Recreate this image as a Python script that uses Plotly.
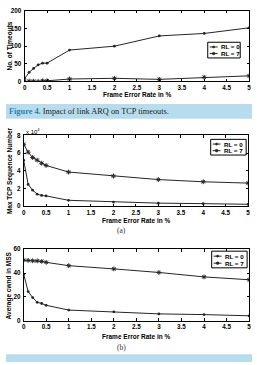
import plotly.graph_objects as go

W, H = 257, 365

fer = [0, 0.1, 0.2, 0.3, 0.4, 0.5, 1, 2, 3, 4, 5]
xtick_vals = [0, 0.5, 1, 1.5, 2, 2.5, 3, 3.5, 4, 4.5, 5]
xtick_text = ["0", "0.5", "1", "1.5", "2", "2.5", "3", "3.5", "4", "4.5", "5"]

timeouts_rl0 = [8, 26, 37, 47, 52, 52, 89, 100, 129, 136, 152]
timeouts_rl7 = [0, 1, 1, 0, 2, 2, 7, 9, 6, 12, 16]
seq_rl0 = [5.2, 2.45, 1.8, 1.35, 1.2, 1.15, 0.65, 0.45, 0.33, 0.27, 0.2]
seq_rl7 = [7.0, 6.1, 5.5, 5.2, 4.85, 4.6, 3.85, 3.4, 3.0, 2.75, 2.6]
cwnd_rl0 = [39, 24.5, 19.5, 15.5, 14.5, 13, 9, 7.5, 5.8, 5.2, 4.2]
cwnd_rl7 = [50.8, 50.6, 50.3, 50.2, 49.8, 49, 46.2, 43.5, 40.5, 36.8, 34.4]

series_names = ["RL = 0", "RL = 7"]
ylabels = ["No. of Timeouts", "Max TCP Sequence Number", "Average cwnd in MSS"]
xlabel = "Frame Error Rate in %"
caption_fig = "Figure 4."
caption_rest = " Impact of link ARQ on TCP timeouts."

SANS = "Liberation Sans, Arial, sans-serif"
SERIF = "Liberation Serif, Times New Roman, serif"
LINE = "#262626"
BLUE_BAND = "#b7dced"


def px(x):
    return x / W


def py(y):
    return 1 - y / H


# panel boxes in pixels: (x0, x1, ytop, ybottom)
panels = [(23, 251, 7, 79), (22, 250, 134, 206), (22, 251, 250, 323)]
yranges = [[0, 200], [0, 8], [0, 60]]
ydticks = [50, 2, 20]
data = [(timeouts_rl0, timeouts_rl7), (seq_rl0, seq_rl7), (cwnd_rl0, cwnd_rl7)]

fig = go.Figure()

axis_common = dict(
    showline=True, linecolor="black", linewidth=1, mirror="ticks",
    ticks="inside", ticklen=2.5, tickcolor="black", tickwidth=1,
    showgrid=False, zeroline=False,
    tickfont=dict(family=SANS, size=6.3, color="black", weight="bold"),
)

for i, ((x0, x1, yt, yb), yr, dt, (s0, s7)) in enumerate(zip(panels, yranges, ydticks, data)):
    n = "" if i == 0 else str(i + 1)
    fig.add_trace(go.Scatter(
        x=fer, y=s0, mode="lines+markers", name=series_names[0], showlegend=False,
        xaxis="x" + n, yaxis="y" + n,
        line=dict(color=LINE, width=1), marker=dict(symbol="circle", size=2.8, color=LINE),
    ))
    fig.add_trace(go.Scatter(
        x=fer, y=s7, mode="lines+markers", name=series_names[1], showlegend=False,
        xaxis="x" + n, yaxis="y" + n,
        line=dict(color=LINE, width=1),
        marker=dict(symbol="asterisk", size=4, color=LINE, line=dict(color=LINE, width=1)),
    ))
    fig.layout["xaxis" + n] = dict(
        domain=[px(x0), px(x1)], anchor="y" + n, range=[0, 5],
        tickvals=xtick_vals, ticktext=xtick_text, ticklabelstandoff=0, **axis_common,
    )
    fig.layout["yaxis" + n] = dict(
        domain=[py(yb), py(yt)], anchor="x" + n, range=yr, dtick=dt,
        ticklabelstandoff=1, **axis_common,
    )

annotations = []
shapes = []

# axis titles
xl_y = [92.5, 220.5, 339]
for i, (x0, x1, yt, yb) in enumerate(panels):
    annotations.append(dict(
        text=xlabel, x=px((x0 + x1) / 2), y=py(xl_y[i]), xref="paper", yref="paper",
        showarrow=False, xanchor="center", yanchor="middle",
        font=dict(family=SANS, size=6.5, color="black", weight="bold"),
    ))
    annotations.append(dict(
        text=ylabels[i], x=px(7.5), y=py((yt + yb) / 2), xref="paper", yref="paper",
        showarrow=False, xanchor="center", yanchor="middle", textangle=-90,
        font=dict(family=SANS, size=6.5, color="black", weight="bold"),
    ))

# exponent label
annotations.append(dict(
    text="x 10<sup>4</sup>", x=px(22), y=py(129), xref="paper", yref="paper",
    showarrow=False, xanchor="left", yanchor="middle",
    font=dict(family=SANS, size=6, color="black"),
))

# (a), (b)
for lab, yy in [("(a)", 230.5), ("(b)", 350)]:
    annotations.append(dict(
        text=lab, x=px(121), y=py(yy), xref="paper", yref="paper",
        showarrow=False, xanchor="center", yanchor="middle",
        font=dict(family=SERIF, size=7.5, color="#333333"),
    ))

# caption band and text
shapes.append(dict(type="rect", xref="paper", yref="paper",
                   x0=px(4), x1=px(254), y0=py(117), y1=py(102),
                   fillcolor=BLUE_BAND, line=dict(width=0), layer="below"))
shapes.append(dict(type="rect", xref="paper", yref="paper",
                   x0=px(4), x1=px(254), y0=py(365), y1=py(357),
                   fillcolor=BLUE_BAND, line=dict(width=0), layer="below"))
annotations.append(dict(
    text=f"<span style='color:#2f7fb5'><b>{caption_fig}</b></span>{caption_rest}",
    x=px(5), y=py(109.5), xref="paper", yref="paper", showarrow=False,
    xanchor="left", yanchor="middle",
    font=dict(family=SERIF, size=8.3, color="#222222"),
))

# manual legends
legend_boxes = [(209, 242, 39, 55), (212, 248, 138, 154), (213, 249, 252, 269)]
for (lx0, lx1, ly0, ly1) in legend_boxes:
    shapes.append(dict(type="rect", xref="paper", yref="paper",
                       x0=px(lx0), x1=px(lx1), y0=py(ly1), y1=py(ly0),
                       fillcolor="white", line=dict(color="black", width=1)))
    rows = [ly0 + (ly1 - ly0) * 0.3, ly0 + (ly1 - ly0) * 0.72]
    for j, ry in enumerate(rows):
        shapes.append(dict(type="line", xref="paper", yref="paper",
                           x0=px(lx0 + 2), x1=px(lx0 + 10), y0=py(ry), y1=py(ry),
                           line=dict(color=LINE, width=1)))
        r = 1.1 if j == 0 else 1.4
        shapes.append(dict(type="circle", xref="paper", yref="paper",
                           x0=px(lx0 + 6 - r), x1=px(lx0 + 6 + r),
                           y0=py(ry + r), y1=py(ry - r),
                           fillcolor=LINE, line=dict(color=LINE, width=0.5)))
        annotations.append(dict(
            text=series_names[j], x=px(lx0 + 11), y=py(ry), xref="paper", yref="paper",
            showarrow=False, xanchor="left", yanchor="middle",
            font=dict(family=SANS, size=6.2, color="black", weight="bold"),
        ))

fig.update_layout(
    width=W, height=H, margin=dict(l=0, r=0, t=0, b=0),
    paper_bgcolor="white", plot_bgcolor="white",
    showlegend=False, annotations=annotations, shapes=shapes,
)

fig.write_html("out.html", config={"displayModeBar": False})
